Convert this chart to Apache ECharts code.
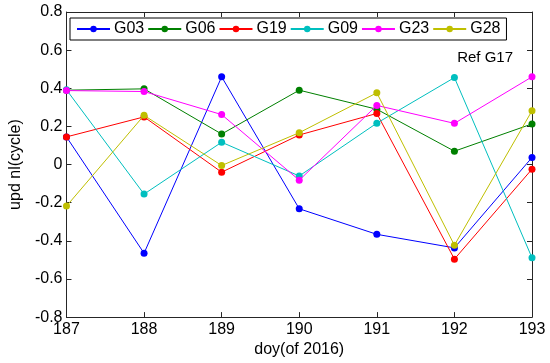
<!DOCTYPE html>
<html><head><meta charset="utf-8">
<script src="https://cdn.jsdelivr.net/npm/echarts@6/dist/echarts.min.js"></script>
<style>html,body{margin:0;padding:0;background:#fff}#c{width:550px;height:363px}</style>
</head><body><div id="c"></div>
<script>
var days = [187, 188, 189, 190, 191, 192, 193];
var names = ['G03', 'G06', 'G19', 'G09', 'G23', 'G28'];
var G03 = [0.145, -0.465, 0.46, -0.232, -0.366, -0.437, 0.037];
var G06 = [0.39, 0.397, 0.16, 0.39, 0.29, 0.07, 0.213];
var G19 = [0.145, 0.25, -0.04, 0.155, 0.268, -0.496, -0.024];
var G09 = [0.392, -0.155, 0.117, -0.06, 0.217, 0.456, -0.489];
var G23 = [0.388, 0.383, 0.262, -0.082, 0.31, 0.216, 0.46];
var G28 = [-0.218, 0.258, -0.005, 0.167, 0.376, -0.423, 0.282];
var yTicks = [-0.8, -0.6, -0.4, -0.2, 0, 0.2, 0.4, 0.6, 0.8];
var colors = ['#0000ff', '#008000', '#ff0000', '#00bfbf', '#ff00ff', '#bfbf00'];
var values = [G03, G06, G19, G09, G23, G28];

var font = 'Liberation Sans, Arial, sans-serif';
var axisColor = '#262626';
function pairs(v){ return days.map(function(d,i){ return [d, v[i]]; }); }

var series = names.map(function(n, k){
  return {
    name: n, type: 'line', data: pairs(values[k]),
    symbol: 'circle', symbolSize: 7,
    itemStyle: { color: colors[k] },
    lineStyle: { color: colors[k], width: 1 },
    xAxisIndex: 0, yAxisIndex: 0, z: 2 + k
  };
});

var chart = echarts.init(document.getElementById('c'), null, {renderer: 'canvas'});
chart.setOption({
  animation: false,
  backgroundColor: '#fff',
  color: colors,
  grid: { left: 56, right: 18, top: 12, bottom: 44 },
  legend: {
    data: names, left: 70, top: 18,
    orient: 'horizontal',
    borderColor: '#000', borderWidth: 1, backgroundColor: '#fff',
    padding: [3, 6, 3, 6],
    itemWidth: 33, itemHeight: 8, itemGap: 3,
    textStyle: { fontFamily: font, fontSize: 16, color: '#000', padding: [0,0,0,-1] }
  },
  graphic: [{
    type: 'text', right: 37, top: 50,
    style: { text: 'Ref G17', font: '15px ' + font, fill: '#000' }
  }],
  xAxis: [{
    type: 'value', min: 187, max: 193, interval: 1,
    name: 'doy(of 2016)', nameLocation: 'middle', nameGap: 23,
    nameTextStyle: { fontFamily: font, fontSize: 16, color: '#000' },
    axisLine: { show: true, onZero: false, lineStyle: { color: axisColor, width: 1 } },
    axisTick: { show: true, inside: true, length: 5, lineStyle: { color: axisColor } },
    axisLabel: { fontFamily: font, fontSize: 16, color: '#000', margin: 4 },
    splitLine: { show: false }
  }, {
    type: 'value', position: 'top', min: 187, max: 193, interval: 1,
    axisLine: { show: true, onZero: false, lineStyle: { color: axisColor, width: 1 } },
    axisTick: { show: true, inside: true, length: 5, lineStyle: { color: axisColor } },
    axisLabel: { show: false }, splitLine: { show: false }
  }],
  yAxis: [{
    type: 'value', min: -0.8, max: 0.8, interval: 0.2,
    name: 'upd nl(cycle)', nameLocation: 'middle', nameGap: 38, nameRotate: 90,
    nameTextStyle: { fontFamily: font, fontSize: 16, color: '#000' },
    axisLine: { show: true, onZero: false, lineStyle: { color: axisColor, width: 1 } },
    axisTick: { show: true, inside: true, length: 5, lineStyle: { color: axisColor } },
    axisLabel: { fontFamily: font, fontSize: 16, color: '#000', margin: 4,
      formatter: function(v){ var r = Math.round(v*10)/10; return r === 0 ? '0' : String(r); } },
    splitLine: { show: false }
  }, {
    type: 'value', position: 'right', min: -0.8, max: 0.8, interval: 0.2,
    axisLine: { show: true, onZero: false, lineStyle: { color: axisColor, width: 1 } },
    axisTick: { show: true, inside: true, length: 5, lineStyle: { color: axisColor } },
    axisLabel: { show: false }, splitLine: { show: false }
  }],
  series: series
});
</script></body></html>
